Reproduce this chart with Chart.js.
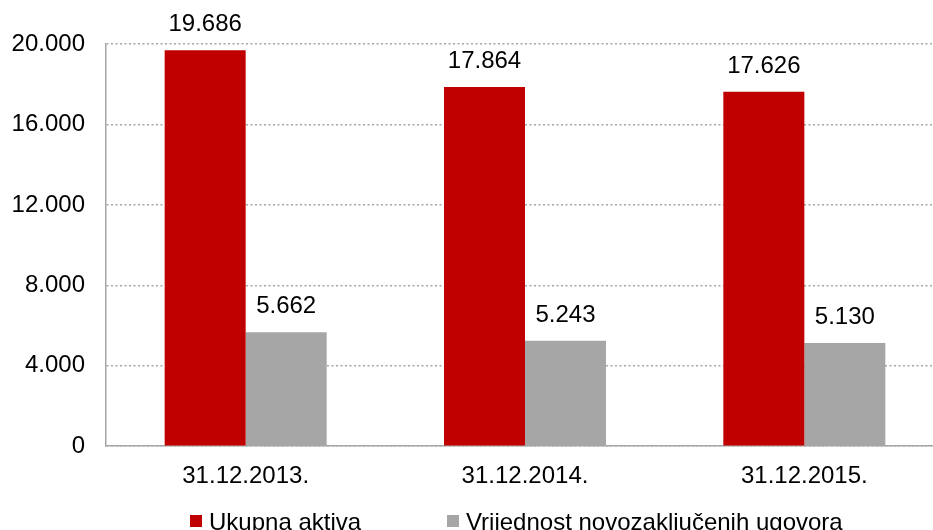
<!DOCTYPE html>
<html>
<head>
<meta charset="utf-8">
<script src="https://cdn.jsdelivr.net/npm/chart.js@4"></script>
<style>
  html, body { margin: 0; padding: 0; background: #fff; overflow: hidden; }
  #wrap { width: 933px; height: 530px; overflow: hidden; }
  #box { width: 944px; height: 530px; }
</style>
</head>
<body>
<div id="wrap"><div id="box"><canvas id="chart"></canvas></div></div>
<script>
// Podaci s grafikona
const categories = ['31.12.2013.', '31.12.2014.', '31.12.2015.'];
const seriesNames = ['Ukupna aktiva', 'Vrijednost novozaključenih ugovora'];
const ukupnaAktiva = [19686, 17864, 17626];
const novoUgovori = [5662, 5243, 5130];
const yTicks = [0, 4000, 8000, 12000, 16000, 20000];

const FONT = "'Liberation Sans', Arial, sans-serif";
const FONT_SIZE = 24;

function fmt(v) {
    return String(v).replace(/\B(?=(\d{3})+(?!\d))/g, '.');
}

// Oznake vrijednosti iznad stupaca
const valueLabels = {
    id: 'valueLabels',
    afterDatasetsDraw(chart) {
        const ctx = chart.ctx;
        ctx.save();
        ctx.font = FONT_SIZE + 'px ' + FONT;
        ctx.fillStyle = '#000';
        ctx.textAlign = 'center';
        ctx.textBaseline = 'alphabetic';
        chart.data.datasets.forEach((ds, i) => {
            chart.getDatasetMeta(i).data.forEach((bar, j) => {
                ctx.fillText(fmt(ds.data[j]), bar.x, bar.y - 19);
            });
        });
        ctx.restore();
    }
};

// Legenda na dnu (ručno, zbog razmaka kao u originalu)
const bottomLegend = {
    id: 'bottomLegend',
    afterDraw(chart) {
        const ctx = chart.ctx;
        const xs = [190, 447];
        const y = 521;
        ctx.save();
        ctx.font = FONT_SIZE + 'px ' + FONT;
        ctx.textBaseline = 'middle';
        ctx.textAlign = 'left';
        chart.data.datasets.forEach((ds, i) => {
            ctx.fillStyle = ds.backgroundColor;
            ctx.fillRect(xs[i], y - 6, 12, 12);
            ctx.fillStyle = '#000';
            ctx.fillText(ds.label, xs[i] + 19, y + 2);
        });
        ctx.restore();
    }
};

new Chart(document.getElementById('chart').getContext('2d'), {
    type: 'bar',
    data: {
        labels: categories,
        datasets: [
            { label: seriesNames[0], data: ukupnaAktiva, backgroundColor: '#C00000' },
            { label: seriesNames[1], data: novoUgovori, backgroundColor: '#A6A6A6' }
        ]
    },
    options: {
        responsive: true,
        maintainAspectRatio: false,
        animation: false,
        layout: { padding: { top: 44, bottom: 23, left: 0, right: 0 } },
        datasets: { bar: { categoryPercentage: 0.58, barPercentage: 1 } },
        plugins: { legend: { display: false }, tooltip: { enabled: false } },
        scales: {
            x: {
                grid: { display: false, drawTicks: false },
                border: { display: true, color: '#A6A6A6', width: 1.5 },
                ticks: { color: '#000', font: { family: FONT, size: FONT_SIZE }, padding: 16 }
            },
            y: {
                min: 0,
                max: 20000,
                afterBuildTicks: (scale) => { scale.ticks = yTicks.map(v => ({ value: v })); },
                afterFit: (scale) => { scale.width = 106; },
                grid: { color: '#A6A6A6', lineWidth: 1.5, drawTicks: false },
                border: { display: true, color: '#A6A6A6', width: 1.5, dash: [2, 2.5] },
                ticks: {
                    color: '#000',
                    font: { family: FONT, size: FONT_SIZE },
                    padding: 21,
                    callback: (v) => fmt(v)
                }
            }
        }
    },
    plugins: [valueLabels, bottomLegend]
});
</script>
</body>
</html>
